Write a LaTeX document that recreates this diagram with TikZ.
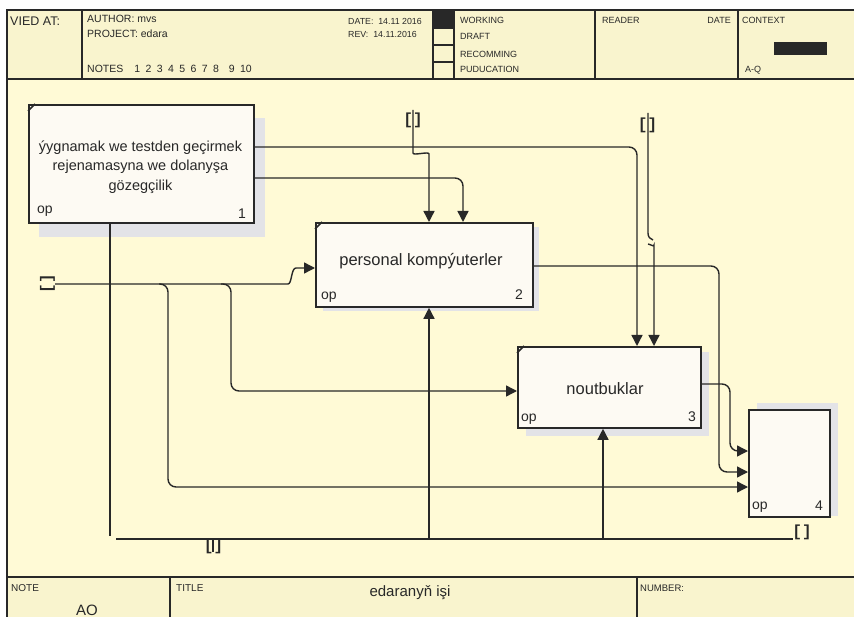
\documentclass[tikz,border=0pt]{standalone}
\usepackage{fontspec}
\setmainfont{Liberation Sans}
\newfontfamily\monof{Liberation Mono}
\usetikzlibrary{arrows.meta}
\definecolor{hdr}{RGB}{249,244,206}
\definecolor{bgc}{RGB}{255,250,214}
\definecolor{boxfill}{RGB}{253,250,243}
\definecolor{shadowc}{RGB}{227,227,231}
\definecolor{ink}{RGB}{40,40,40}
\newcommand{\dsp}{\hspace{5.4pt}}
\begin{document}
\begin{tikzpicture}[x=1pt,y=-1pt,
  frameline/.style={draw=ink,line width=2pt},
  thinline/.style={draw=ink,line width=1.4pt},
  box/.style={draw=ink,line width=1.8pt,fill=boxfill,anchor=north west,inner sep=0pt},
  conn/.style={draw=ink,line width=1.4pt,rounded corners=8pt},
  arr/.style={-{Triangle[length=11pt,width=11pt]}},
  lbl/.style={inner sep=0pt,anchor=base west,text=ink},
  lblr/.style={inner sep=0pt,anchor=base east,text=ink},
  lblc/.style={inner sep=0pt,anchor=base,text=ink},
  brk/.style={inner sep=0pt,text=ink,font=\monof\bfseries\fontsize{16}{16}\selectfont},
  hsmall/.style={font=\fontsize{9}{10}\selectfont},
  hmid/.style={font=\fontsize{10.5}{12}\selectfont},
  boxtxt/.style={font=\fontsize{14.5}{19.5}\selectfont},
  bigtxt/.style={font=\fontsize{16.5}{18}\selectfont},
  optxt/.style={font=\fontsize{14}{16}\selectfont}
]
\useasboundingbox (0,0) rectangle (854,617);
% backgrounds
\fill[white] (0,0) rectangle (854,617);
\fill[hdr] (7,10) rectangle (854,79);
\fill[bgc] (7,79) rectangle (854,577);
\fill[hdr] (7,577) rectangle (854,617);
% frame
\draw[frameline] (7,625) -- (7,10) -- (860,10);
\draw[frameline] (7,79) -- (860,79);
\draw[frameline] (7,577) -- (860,577);
\foreach \xx in {82,433,454,595,738} \draw[frameline] (\xx,10) -- (\xx,79);
\fill[ink] (433,10) rectangle (454,28);
\foreach \yy in {28,45,62} \draw[thinline] (433,\yy) -- (454,\yy);
\fill[ink] (774,42) rectangle (827,55);
\foreach \xx in {170,637} \draw[frameline] (\xx,577) -- (\xx,625);
% header texts
\node[lbl,font=\fontsize{12.5}{14}\selectfont] (hvied) at (10,26) {VIED AT:};
\node[lbl,hmid] (hauth) at (87,22.7) {AUTHOR: mvs};
\node[lbl,hmid] (hproj) at (87,38) {PROJECT: edara};
\node[lbl,hmid] (hnotes) at (87,73) {NOTES\hspace{11pt}1\dsp2\dsp3\dsp4\dsp5\dsp6\dsp7\dsp8\hspace{10pt}9\dsp10};
\node[lbl,font=\fontsize{8.8}{10}\selectfont] (hdate) at (348,25) {DATE:\ \ 14.11 2016};
\node[lbl,font=\fontsize{8.8}{10}\selectfont] (hrev) at (348,37.7) {REV:\ \ 14.11.2016};
\node[lbl,hsmall] (hwork) at (460,24) {WORKING};
\node[lbl,hsmall] (hdraft) at (460,39.3) {DRAFT};
\node[lbl,hsmall] (hrec) at (460,57.3) {RECOMMING};
\node[lbl,hsmall] (hpub) at (460,72.7) {PUDUCATION};
\node[lbl,hsmall] (hread) at (602,23.3) {READER};
\node[lblr,hsmall] (hrdate) at (731,23.3) {DATE};
\node[lbl,hsmall] (hctx) at (742,23.3) {CONTEXT};
\node[lbl,hsmall] (haq) at (745,72.7) {A-Q};
% footer texts
\node[lbl,font=\fontsize{10}{12}\selectfont] (fnote) at (11,591) {NOTE};
\node[lblc,font=\fontsize{15}{16}\selectfont] (fao) at (87,615) {AO};
\node[lbl,font=\fontsize{10}{12}\selectfont] (ftitle) at (176,591) {TITLE};
\node[lblc,font=\fontsize{15}{16}\selectfont] (ftext) at (410,596) {edaranyň işi};
\node[lbl,font=\fontsize{9.5}{12}\selectfont] (fnum) at (640,591) {NUMBER:};
% shadows
\fill[shadowc] (39,118) rectangle (265,237);
\fill[shadowc] (323,227) rectangle (539,311);
\fill[shadowc] (526,352) rectangle (709,436);
\fill[shadowc] (757,403) rectangle (838,516);
% boxes
\node[box,minimum width=225pt,minimum height=118pt] (b1) at (28,104) {};
\node[box,minimum width=217pt,minimum height=84pt] (b2) at (315,222) {};
\node[box,minimum width=183pt,minimum height=81pt] (b3) at (517,346) {};
\node[box,minimum width=81pt,minimum height=107pt] (b4) at (748,409) {};
\foreach \b in {b1,b2,b3} \draw[ink,line width=1.5pt] ([yshift=-7pt]\b.north west) -- ([xshift=7pt]\b.north west);
% box texts
\node[boxtxt,align=center,inner sep=0pt,text=ink] (b1t) at (140.5,167) {ýygnamak we testden geçirmek\\rejenamasyna we dolanyşa\\gözegçilik};
\node[lblc,bigtxt] (b2t) at (421,266) {personal kompýuterler};
\node[lblc,bigtxt] (b3t) at (605,395) {noutbuklar};
\node[lbl,optxt] (b1op) at (37,214) {op};
\node[lblr,optxt] (b1n) at (246,219) {1};
\node[lbl,optxt] (b2op) at (321,300) {op};
\node[lblr,optxt] (b2n) at (523,300) {2};
\node[lbl,optxt] (b3op) at (521,421) {op};
\node[lblr,optxt] (b3n) at (696,421) {3};
\node[lbl,optxt] (b4op) at (752,509) {op};
\node[lblr,optxt] (b4n) at (823,510) {4};
% helper coordinates
\coordinate (y147) at (0,147);
\coordinate (y178) at (0,178);
\coordinate (y266) at (0,266);
\coordinate (y268) at (0,268);
\coordinate (y384) at (0,384);
\coordinate (y391) at (0,391);
\coordinate (y451) at (0,451);
\coordinate (y472) at (0,472);
\coordinate (y487) at (0,487);
\coordinate (x110) at (110,0);
\coordinate (x168) at (168,0);
\coordinate (x231) at (231,0);
\coordinate (x429) at (429,0);
\coordinate (x463) at (463,0);
\coordinate (x603) at (603,0);
\coordinate (x637) at (637,0);
\coordinate (x654) at (654,0);
\coordinate (x719) at (719,0);
\coordinate (x730) at (730,0);
% tunnel labels
\node[brk] (c1l) at (413,120) {[]};
\node[brk] (c2l) at (647.5,125) {[]};
\node[brk,rotate=90] (inl) at (47.5,284) {[]};
\node[brk] (mbl) at (213.5,546) {[]};
\node[brk] (mrl) at (802,532) {[]};
\coordinate (c1) at (413,110);
\coordinate (c2) at (648,113);
\coordinate (in0) at (55,284);
\coordinate (m0) at (116,539);
\coordinate (m1) at (793,539);
\coordinate (mb) at (213,539);
% connectors from box 1
\draw[conn,arr] (b1.east |- y147) -| (b3.north -| x637);
\draw[conn,arr] (b1.east |- y178) -| (b2.north -| x463);
% controls
\draw[conn,arr] (c1) -- (413,145) .. controls (413,156) and (429,151) .. (429,162) -- (b2.north -| x429);
\draw[thinline] (c2) -- (648,233) .. controls (648,237) and (650,239) .. (653,240);
\draw[conn,arr] (648,244) .. controls (652,245) and (654,247) .. (654,253) -- (b3.north -| x654);
% outputs to box 4
\draw[conn,arr] (b2.east |- y266) -| (x719 |- y472) -- (b4.west |- y472);
\draw[conn,arr] (b3.east |- y384) -| (x730 |- y451) -- (b4.west |- y451);
% inputs
\draw[conn,arr] (in0) -- (280,284) .. controls (292,284) and (291,268) .. (304,268) -- (b2.west |- y268);
\draw[conn,arr] (159,284) -| (x168 |- y487) -- (b4.west |- y487);
\draw[conn,arr] (221,284) -| (x231 |- y391) -- (b3.west |- y391);
% mechanisms
\draw[thinline] (b1.south -| x110) -- (110,536);
\draw[thinline] (m0) -- (m1);
\draw[thinline] (mb) -- (213,552);
\draw[conn,arr] (x429 |- m0) -- (b2.south -| x429);
\draw[conn,arr] (x603 |- m0) -- (b3.south -| x603);
\end{tikzpicture}
\end{document}
